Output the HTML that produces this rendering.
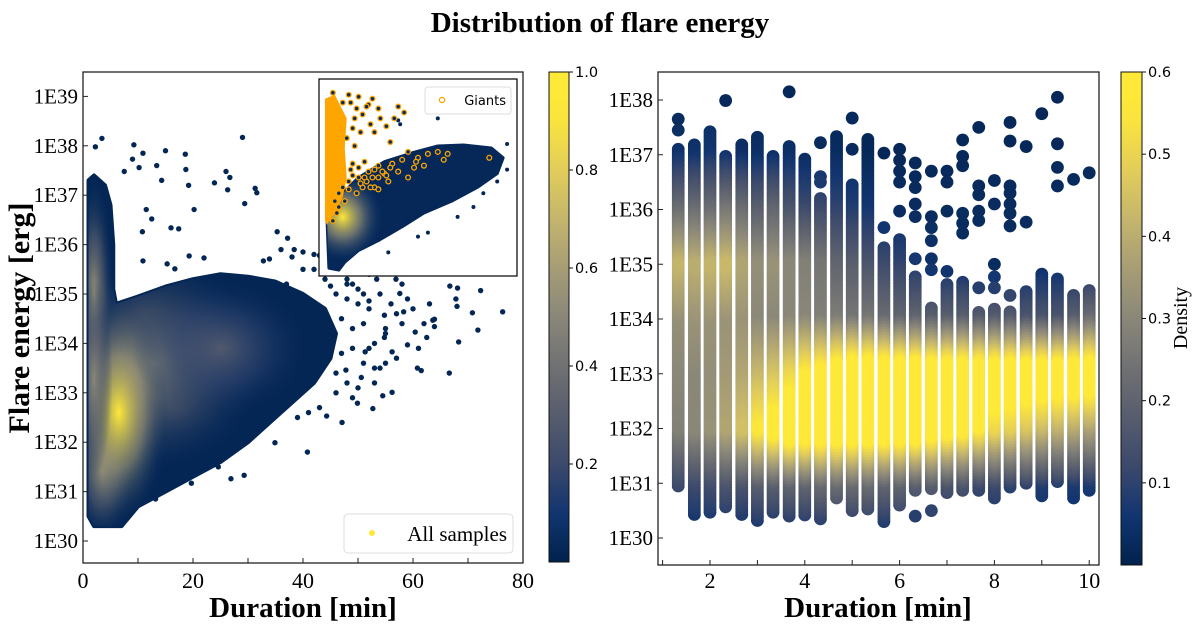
<!DOCTYPE html>
<html><head><meta charset="utf-8"><style>
html,body{margin:0;padding:0;background:#fff}
svg{display:block}
.serif{font-family:"Liberation Serif",serif}
.sans{font-family:"DejaVu Sans","Liberation Sans",sans-serif}
</style></head><body>
<svg id="fig" width="1200" height="629" viewBox="0 0 1200 629" xmlns="http://www.w3.org/2000/svg">
<defs id="defs"></defs>
<text x="600" y="32" text-anchor="middle" class="serif" font-weight="bold" font-size="29">Distribution of flare energy</text>
<g id="left"></g>
<g id="right"></g>
</svg>
<script>
// ---------- Colormap ----------
const cmapStops=[[0,'#00224e'],[0.1,'#123570'],[0.2,'#3b496c'],[0.3,'#575d6d'],[0.4,'#707173'],[0.5,'#8a8779'],[0.6,'#a69d75'],[0.7,'#c4b56c'],[0.8,'#e2cd5a'],[0.92,'#fee838'],[1,'#fee838']];
// ---------- Left plot data ----------
const leftXTicks=[0,20,40,60,80];
const leftYTicks=[30,31,32,33,34,35,36,37,38,39];
const envelopeD=[1,1,2,4,5,5.5,5.5,6,10,15,20,25,30,35,40,44,46,45,42,38,34,30,25,20,15,10,7,4,2];
const envelopeE=[30.5,37.3,37.4,37.2,36.8,36.0,35.1,34.8,34.95,35.15,35.3,35.4,35.35,35.25,35.0,34.7,34.2,33.7,33.2,32.8,32.4,32.0,31.6,31.3,31.0,30.7,30.3,30.3,30.3];
const blobD=[13,2,3.5,6.5,2,25];
const blobE=[33.6,35.0,31.4,32.6,33.3,33.9];
const blobSD=[10,1.8,2.8,4.6,1.7,8];
const blobSE=[1.1,1.2,0.7,1.15,1.0,0.7];
const blobPeak=[0.5,0.55,0.55,1.0,0.5,0.28];
const outD=[3.44,2.25,9.25,10.9,15,29,18.6,18.7,9,7.5,10.2,13.4,14.3,19.2,26,26.7,23.9,26.3,31.3,31.6,29.4,20.2,16,17.4,12.5,11.5,10.8,35.3,37.2,38.4,19.3,22,10.9,15.3,16.7,32.8,33.9,43,66.7,68.1,72.3,67.8,68,70.8,76.3,71.8,68.3,66.6,60.8,61.5,63.6,63.9,60.4,56.2,54.5,52.7,49.9,47.1,44.3,40.8,34.9,26.9,29.3,19.7,13.2,24.6,57.6,59,54.8,58.3,56.9,53.4,47.8,45,52,54.8,56.2,51.3,47.8,50.6,59,62.5,63.9,42,44,46,48,40,38,36,41,49,53,55,46,43,39,
48,50,52,47,49,51,53,55,57,45,47,49,51,53,44,46,48,50,52,54,56,58,60,62,46,48,50,52,44,42,40,43,45,41,39,37,49,51,55,57,61,63,58,54];
const outE=[38.15,37.98,38.02,37.85,37.9,38.17,37.83,37.52,37.73,37.48,37.56,37.6,37.3,37.2,37.48,37.36,37.25,37.11,37.14,37.05,36.83,36.71,36.34,36.32,36.52,36.71,36.26,36.26,36.13,35.9,35.77,35.73,35.67,35.61,35.51,35.67,35.71,35.78,35.16,35.12,35.07,34.9,34.75,34.62,34.64,34.27,34.03,33.4,33.5,33.45,34.47,34.34,34.23,33.01,32.94,32.68,32.79,32.4,32.53,31.8,31.99,31.26,31.33,31.17,30.85,31.5,35.01,34.9,34.57,34.64,35.3,35.3,35.45,35.16,34.86,34.12,33.83,33.83,33.46,33.31,33.97,34.12,34.49,35.8,35.9,35.7,35.3,35.85,35.75,35.9,32.6,32.9,33.2,33.6,33.0,32.7,32.5,
34.9,35.1,34.7,34.5,34.3,34.4,34.0,34.2,34.6,34.0,33.8,33.9,33.6,33.5,35.3,35.0,35.2,34.8,35.4,35.0,34.8,34.4,34.7,34.4,33.4,33.2,33.1,33.9,35.4,35.5,35.5,34.5,34.1,33.4,33.6,35.2,35.2,35.0,34.3,33.7,33.9,34.8,35.2,33.5];
const leftCbarTicks=[0.2,0.4,0.6,0.8,1.0];
// inset (normalized 0..1 coordinates)
const insetBlobU=[0.05,0.04,0.1,0.2,0.33,0.47,0.6,0.73,0.87,0.93,0.9,0.8,0.67,0.53,0.42,0.3,0.2,0.13,0.1];
const insetBlobV=[0.96,0.7,0.6,0.5,0.42,0.375,0.34,0.335,0.35,0.4,0.48,0.55,0.62,0.68,0.75,0.82,0.87,0.93,0.97];
const insetBandU=[0.03,0.03,0.08,0.14,0.13,0.14,0.12,0.08,0.04];
const insetBandV=[0.72,0.1,0.08,0.2,0.35,0.5,0.6,0.68,0.74];
const giantU=[0.07,0.15,0.2,0.12,0.25,0.3,0.22,0.38,0.34,0.28,0.18,0.4,0.43,0.36,0.45,0.17,0.23,0.3,0.37,0.42,0.5,0.55,0.6,0.65,0.48,0.4,0.33,0.27,0.2,0.15,0.12,0.1,0.08,0.07,0.28,0.35,0.45,0.53,0.63,0.22,0.25,0.86,0.49,0.3,0.1,0.09,
0.16,0.19,0.24,0.27,0.31,0.17,0.21,0.26,0.14,0.18,0.16,0.2,0.24,0.28,0.32,0.36,0.19,0.23,0.15,0.17,0.13,0.21,0.26,0.3,0.34];
const giantV=[0.07,0.08,0.09,0.12,0.13,0.15,0.18,0.2,0.24,0.27,0.2,0.14,0.17,0.32,0.37,0.43,0.42,0.44,0.43,0.41,0.4,0.38,0.37,0.38,0.45,0.47,0.48,0.5,0.5,0.52,0.55,0.58,0.62,0.72,0.55,0.52,0.5,0.44,0.41,0.55,0.47,0.4,0.42,0.56,0.65,0.68,
0.12,0.15,0.14,0.1,0.2,0.25,0.27,0.23,0.3,0.34,0.46,0.45,0.52,0.46,0.47,0.45,0.58,0.5,0.56,0.49,0.62,0.53,0.55,0.5,0.49];
const insetDotU=[0.4,0.41,0.6,0.95,0.95,0.9,0.55,0.7,0.78,0.83,0.88,0.45,0.5,0.35];
const insetDotV=[0.21,0.23,0.2,0.33,0.46,0.52,0.78,0.7,0.65,0.58,0.42,0.72,0.8,0.88];

// ---------- Right plot data ----------
const rightXTicks=[2,4,6,8,10];
const rightYTicks=[30,31,32,33,34,35,36,37,38];
const colX=[1.33,1.67,2,2.33,2.67,3,3.33,3.67,4,4.33,4.67,5,5.33,5.67,6,6.33,6.67,7,7.33,7.67,8,8.33,8.67,9,9.33,9.67,10];
const colLo=[30.95,30.43,30.47,30.57,30.43,30.32,30.47,30.4,30.42,30.35,30.73,30.5,30.53,30.3,30.6,30.87,30.9,30.83,30.87,30.87,30.73,30.93,31.0,30.77,31.03,30.73,30.87];
const colHi=[37.1,37.2,37.42,36.99,37.2,37.35,36.97,37.15,36.92,36.2,37.37,36.47,37.3,35.33,35.47,34.8,34.23,34.67,34.7,34.13,34.2,34.17,34.5,34.83,34.73,34.43,34.55];
const colOut=[[37.65,37.45],[],[],[37.99],[],[],[],[38.15],[],[37.22,36.6,36.5],[],[37.67,37.1],[],[37.03,35.67],[37.1,36.9,36.7,36.5,35.97],[36.85,36.6,36.4,36.1,35.87,35.1,30.4],[36.7,35.87,35.67,35.43,35.1,34.9,30.5],[36.7,36.5,35.97,34.87],[37.27,36.97,36.8,35.93,35.75,35.57],[37.5,36.43,36.27,35.97,35.8,34.57],[36.53,36.1,35.0,34.77,34.57],[37.59,37.25,36.43,36.3,36.1,35.93,35.7,34.43],[37.15,35.77],[37.75],[38.05,37.2,36.77,36.43],[36.55],[36.67]];
const densLevels=[30,31,32,33,34,35,36,37,38];
const dens31=[0.12,0.12,0.13,0.15,0.15,0.18,0.18,0.2,0.2,0.22,0.22,0.22,0.22,0.2,0.2,0.18,0.18,0.15,0.15,0.12,0.12,0.1,0.1,0.08,0.08,0.07,0.07];
const dens32=[0.28,0.3,0.33,0.38,0.45,0.55,0.6,0.65,0.65,0.65,0.65,0.65,0.65,0.65,0.65,0.65,0.62,0.6,0.58,0.55,0.5,0.48,0.45,0.42,0.4,0.38,0.36];
const dens33=[0.3,0.3,0.32,0.35,0.38,0.42,0.45,0.5,0.55,0.58,0.62,0.65,0.65,0.65,0.65,0.65,0.65,0.65,0.65,0.65,0.65,0.65,0.65,0.65,0.65,0.65,0.65];
const dens34=[0.32,0.33,0.33,0.33,0.33,0.3,0.3,0.3,0.3,0.28,0.27,0.25,0.25,0.22,0.2,0.2,0.18,0.18,0.18,0.17,0.17,0.17,0.15,0.15,0.15,0.18,0.22];
const dens35=[0.42,0.4,0.42,0.43,0.38,0.32,0.33,0.3,0.28,0.25,0.2,0.18,0.15,0.12,0.1,0.07,0.05,0.04,0.03,0.03,0.03,0.03,0.03,0.03,0.03,0.03,0.03];
const dens36=[0.22,0.22,0.22,0.25,0.22,0.18,0.2,0.15,0.12,0.12,0.1,0.08,0.06,0.03,0.03,0.03,0.03,0.03,0.03,0.03,0.03,0.03,0.03,0.03,0.03,0.03,0.03];
const dens37=[0.05,0.05,0.06,0.05,0.04,0.04,0.04,0.04,0.03,0.03,0.03,0.03,0.02,0.02,0.02,0.02,0.02,0.02,0.02,0.02,0.02,0.02,0.02,0.02,0.02,0.02,0.02];
const rightCbarTicks=[0.1,0.2,0.3,0.4,0.5,0.6];

// ---------- helpers ----------
const NS='http://www.w3.org/2000/svg';
function hex(h){return [parseInt(h.substr(1,2),16),parseInt(h.substr(3,2),16),parseInt(h.substr(5,2),16)];}
function cmap(t){t=Math.max(0,Math.min(1,t));for(let i=1;i<cmapStops.length;i++){if(t<=cmapStops[i][0]){const a=cmapStops[i-1],b=cmapStops[i];const f=(t-a[0])/(b[0]-a[0]||1);const c1=hex(a[1]),c2=hex(b[1]);return 'rgb('+c1.map((v,k)=>Math.round(v+(c2[k]-v)*f)).join(',')+')';}}return cmapStops[cmapStops.length-1][1];}
function el(tag,attrs,parent){const e=document.createElementNS(NS,tag);for(const k in attrs)e.setAttribute(k,attrs[k]);parent.appendChild(e);return e;}
const defs=document.getElementById('defs');

// ---------- Left plot ----------
const L={x0:83,x1:523,y0:72,y1:563};
const lx=d=>L.x0+(d-0)/(80-0)*(L.x1-L.x0);
const ly=e=>541-(e-30)*49.4;
const left=document.getElementById('left');
let cp=el('clipPath',{id:'envClip'},defs);
const envPts=envelopeD.map((d,i)=>lx(d)+','+ly(envelopeE[i])).join(' ');
el('polygon',{points:envPts},cp);
let env=el('polygon',{points:envPts,fill:cmap(0.02),stroke:cmap(0.02),'stroke-width':4,'stroke-linejoin':'round'},left);


let blobG=el('g',{'clip-path':'url(#envClip)'},left);
blobD.forEach((d,i)=>{
  const g=el('radialGradient',{id:'bg'+i},defs);
  el('stop',{offset:'0','stop-color':cmap(blobPeak[i]),'stop-opacity':1},g);
  el('stop',{offset:'0.5','stop-color':cmap(blobPeak[i]*0.6),'stop-opacity':0.6},g);
  el('stop',{offset:'1','stop-color':cmap(0.05),'stop-opacity':0},g);
  const rx=blobSD[i]*(L.x1-L.x0)/80*2, ry=blobSE[i]*49.4*2;
  const b=el('ellipse',{cx:lx(d),cy:ly(blobE[i]),rx:rx,ry:ry,fill:'url(#bg'+i+')'},blobG);
  
  
});
outD.forEach((d,i)=>{
  const c=el('circle',{cx:lx(d),cy:ly(outE[i]),r:2.7,fill:cmap(0.02)},left);
  
  
});
// inset
const I={x0:319,x1:517,y0:79,y1:276};
const ix=u=>I.x0+u*(I.x1-I.x0), iy=v=>I.y0+v*(I.y1-I.y0);
let ibg=el('rect',{x:I.x0,y:I.y0,width:I.x1-I.x0,height:I.y1-I.y0,fill:'#fff'},left);


let icp=el('clipPath',{id:'insClip'},defs);
const insPts=insetBlobU.map((u,i)=>ix(u)+','+iy(insetBlobV[i])).join(' ');
el('polygon',{points:insPts},icp);
let ib=el('polygon',{points:insPts,fill:cmap(0.03),stroke:cmap(0.03),'stroke-width':3,'stroke-linejoin':'round'},left);


const ig=el('radialGradient',{id:'ig'},defs);
el('stop',{offset:'0','stop-color':cmap(1),'stop-opacity':1},ig);
el('stop',{offset:'0.45','stop-color':cmap(0.55),'stop-opacity':0.7},ig);
el('stop',{offset:'1','stop-color':cmap(0.1),'stop-opacity':0},ig);
let ie=el('ellipse',{cx:ix(0.12),cy:iy(0.7),rx:40,ry:45,fill:'url(#ig)','clip-path':'url(#insClip)'},left);


insetDotU.forEach((u,i)=>{const c=el('circle',{cx:ix(u),cy:iy(insetDotV[i]),r:2,fill:cmap(0.02)},left);
  
  });
let band=el('polygon',{points:insetBandU.map((u,i)=>ix(u)+','+iy(insetBandV[i])).join(' '),fill:'#ffa500'},left);


giantU.forEach((u,i)=>{const c=el('circle',{cx:ix(u),cy:iy(giantV[i]),r:2.4,fill:cmap(0.05),stroke:'#ffa500','stroke-width':1.3},left);
  
  });
let ifr=el('rect',{x:I.x0,y:I.y0,width:I.x1-I.x0,height:I.y1-I.y0,fill:'none',stroke:'#000','stroke-width':1.2},left);


// inset legend
let ilg=el('g',{},left);


el('rect',{x:425,y:87,width:86,height:27,rx:3,fill:'#fff',stroke:'#ddd','stroke-width':1},ilg);
el('circle',{cx:442,cy:100,r:2.6,fill:'none',stroke:'#ffa500','stroke-width':1.3},ilg);
let it=el('text',{x:506,y:105,'text-anchor':'end','font-size':13,class:'sans'},ilg);it.textContent='Giants';
// frame
let lf=el('rect',{x:L.x0,y:L.y0,width:L.x1-L.x0,height:L.y1-L.y0,fill:'none',stroke:'#222','stroke-width':1.3},left);


// main legend
let mlg=el('g',{},left);


el('rect',{x:344,y:514,width:169,height:39,rx:4,fill:'#fff',stroke:'#ddd','stroke-width':1},mlg);
el('circle',{cx:372,cy:533,r:3,fill:'#fee838'},mlg);
let mt=el('text',{x:507,y:541,'text-anchor':'end','font-size':21,class:'serif'},mlg);mt.textContent='All samples';
// ticks
for(let v=0;v<=80;v+=10){el('line',{x1:lx(v),x2:lx(v),y1:L.y1,y2:L.y1-5,stroke:'#222','stroke-width':1},left);}
leftXTicks.forEach(v=>{const t=el('text',{x:lx(v),y:588,'text-anchor':'middle','font-size':22,class:'serif'},left);t.textContent=v;
  
  });
leftYTicks.forEach(v=>{el('line',{x1:L.x0,x2:L.x0+5,y1:ly(v),y2:ly(v),stroke:'#222','stroke-width':1},left);
  const t=el('text',{x:78,y:ly(v)+7,'text-anchor':'end','font-size':21,class:'serif'},left);t.textContent='1E'+v;
  
  });
let lxl=el('text',{x:303,y:617,'text-anchor':'middle','font-size':29,'font-weight':'bold',class:'serif'},left);lxl.textContent='Duration [min]';


let lyl=el('text',{x:0,y:0,'text-anchor':'middle','font-size':30,'font-weight':'bold',class:'serif',transform:'translate(29,318) rotate(-90)'},left);lyl.textContent='Flare energy [erg]';



function colorbar(parent,x0,x1,y0,y1,vmax,ticks,fmt,name){
  const gid='cb'+name;
  const g=el('linearGradient',{id:gid,x1:0,y1:1,x2:0,y2:0},defs);
  for(let i=0;i<=20;i++)el('stop',{offset:i/20,'stop-color':cmap(i/20)},g);
  const r=el('rect',{x:x0,y:y0,width:x1-x0,height:y1-y0,fill:'url(#'+gid+')',stroke:'#111','stroke-width':1},parent);
  
  
  ticks.forEach(v=>{const y=y1-(v/vmax)*(y1-y0);
    el('line',{x1:x1,x2:x1+4,y1:y,y2:y,stroke:'#111','stroke-width':1},parent);
    const t=el('text',{x:x1+6,y:y+5,'font-size':14.5,class:'sans'},parent);t.textContent=fmt(v);
    
    });
}
colorbar(left,549,569,72,562,1.0,leftCbarTicks,v=>v.toFixed(1),'left-colorbar');

// ---------- Right plot ----------
const R={x0:658,x1:1099,y0:72,y1:565};
const rx=d=>710+(d-2)*47.4;
const ry=e=>538-(e-30)*54.75;
const right=document.getElementById('right');
const densRows=[colX.map(()=>0.03),dens31,dens32,dens33,dens34,dens35,dens36,dens37,colX.map(()=>0.02)];
function densAt(ci,e){if(e<=densLevels[0])return densRows[0][ci];for(let k=1;k<densLevels.length;k++){if(e<=densLevels[k]){const f=(e-densLevels[k-1]);return densRows[k-1][ci]+(densRows[k][ci]-densRows[k-1][ci])*f;}}return densRows[densRows.length-1][ci];}
colX.forEach((x,ci)=>{
  const g=el('g',{},right);
  
  
  const pts=[];
  for(let e=colLo[ci];e<=colHi[ci]+1e-6;e+=0.05)pts.push(e);
  colOut[ci].forEach(e=>pts.push(e));
  pts.sort((a,b)=>densAt(ci,a)-densAt(ci,b));
  pts.forEach(e=>{const c=el('circle',{cx:rx(x),cy:ry(e),r:6.4,fill:cmap(densAt(ci,e)/0.6)},g);
    
    });
});
let rf=el('rect',{x:R.x0,y:R.y0,width:R.x1-R.x0,height:R.y1-R.y0,fill:'none',stroke:'#222','stroke-width':1.3},right);


for(let v=1;v<=10;v++){el('line',{x1:rx(v),x2:rx(v),y1:R.y1,y2:R.y1-5,stroke:'#222','stroke-width':1},right);}
rightXTicks.forEach(v=>{const t=el('text',{x:rx(v),y:588,'text-anchor':'middle','font-size':22,class:'serif'},right);t.textContent=v;
  
  });
rightYTicks.forEach(v=>{el('line',{x1:R.x0,x2:R.x0+5,y1:ry(v),y2:ry(v),stroke:'#222','stroke-width':1},right);
  const t=el('text',{x:653,y:ry(v)+7,'text-anchor':'end','font-size':21,class:'serif'},right);t.textContent='1E'+v;
  
  });
let rxl=el('text',{x:878,y:617,'text-anchor':'middle','font-size':29,'font-weight':'bold',class:'serif'},right);rxl.textContent='Duration [min]';


colorbar(right,1121,1142,72,565,0.6,rightCbarTicks,v=>v.toFixed(1),'right-colorbar');
let dl=el('text',{x:0,y:0,'text-anchor':'middle','font-size':20,class:'serif',transform:'translate(1187,318) rotate(-90)'},right);dl.textContent='Density';


</script>
</body></html>
